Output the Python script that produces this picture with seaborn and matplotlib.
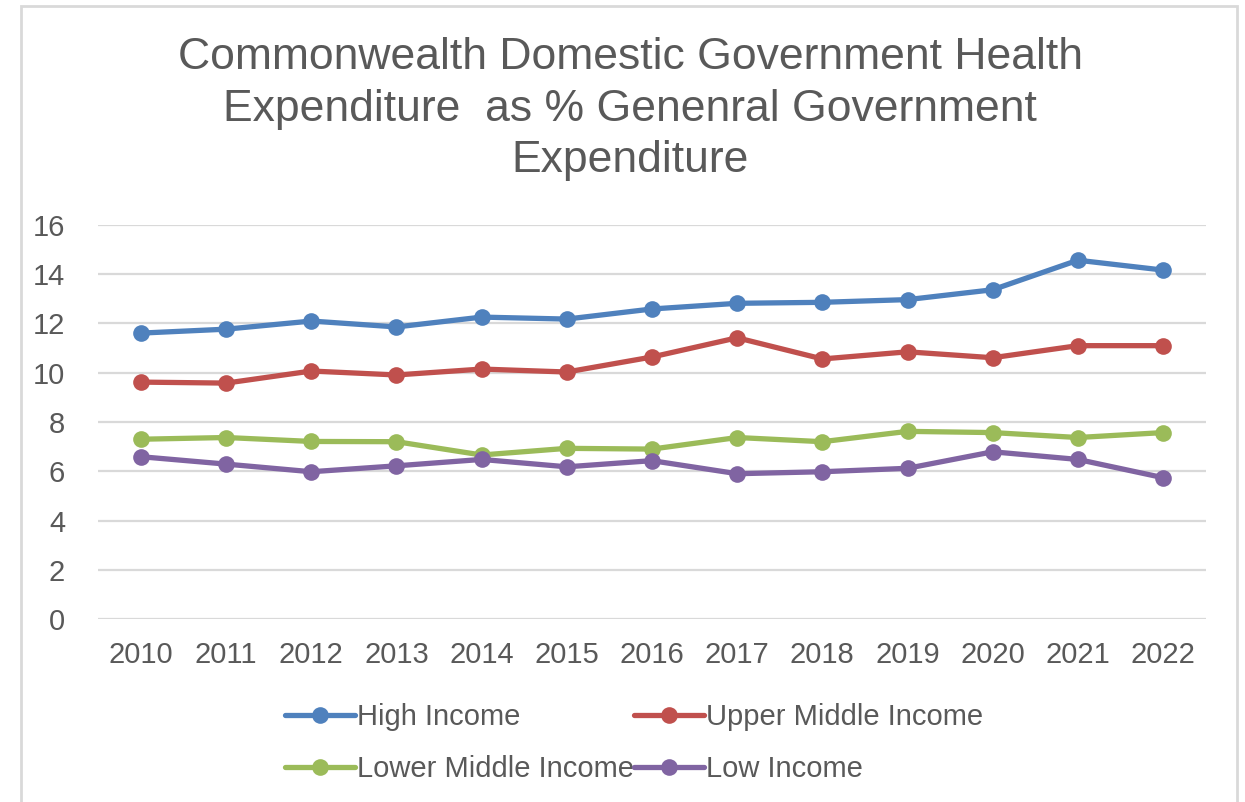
import matplotlib
matplotlib.use("Agg")
import matplotlib.pyplot as plt
import seaborn as sns
import pandas as pd
from matplotlib.patches import Rectangle

years = [2010, 2011, 2012, 2013, 2014, 2015, 2016, 2017, 2018, 2019, 2020, 2021, 2022]
high_income = [11.61, 11.77, 12.10, 11.86, 12.26, 12.18, 12.59, 12.82, 12.86, 12.97, 13.37, 14.57, 14.17]
upper_middle = [9.62, 9.58, 10.07, 9.91, 10.15, 10.03, 10.64, 11.42, 10.56, 10.85, 10.61, 11.10, 11.10]
lower_middle = [7.30, 7.37, 7.21, 7.20, 6.66, 6.93, 6.90, 7.37, 7.20, 7.62, 7.57, 7.37, 7.57]
low_income = [6.59, 6.29, 5.98, 6.22, 6.48, 6.18, 6.43, 5.90, 5.98, 6.12, 6.79, 6.48, 5.74]

series_names = ["High Income", "Upper Middle Income", "Lower Middle Income", "Low Income"]
colors = ["#4f81bd", "#c0504d", "#9bbb59", "#8064a2"]
title = "Commonwealth Domestic Government Health\nExpenditure  as % Genenral Government\nExpenditure"

rows = []
for name, vals in zip(series_names, [high_income, upper_middle, lower_middle, low_income]):
    for i, (y, v) in enumerate(zip(years, vals)):
        rows.append({"pos": i, "year": y, "value": v, "series": name})
df = pd.DataFrame(rows)

sns.set_theme(style="white")
plt.rcParams["font.family"] = ["Liberation Sans", "DejaVu Sans"]
text_color = "#595959"

fig = plt.figure(figsize=(12.45, 8.02), dpi=100)
ax = fig.add_axes([98.4 / 1245, 1 - 619 / 802, (1205.6 - 98.4) / 1245, (619 - 225) / 802])

sns.lineplot(data=df, x="pos", y="value", hue="series", hue_order=series_names,
             palette=colors, marker="o", markersize=12, markeredgewidth=0,
             linewidth=3.8, ax=ax, legend=True, solid_capstyle="round")

ax.set_xlim(-0.5, len(years) - 0.5)
ax.set_ylim(0, 16)
ax.set_yticks(range(0, 17, 2))
ax.set_xticks(range(len(years)))
ax.set_xticklabels([str(y) for y in years])
ax.yaxis.grid(True, color="#d9d9d9", linewidth=1.6)
ax.set_axisbelow(True)
for s in ax.spines.values():
    s.set_visible(False)
ax.tick_params(axis="both", length=0, labelsize=21, labelcolor=text_color)
ax.tick_params(axis="x", pad=16)
ax.tick_params(axis="y", pad=24)
ax.set_xlabel("")
ax.set_ylabel("")

handles, labels = ax.get_legend_handles_labels()
ax.get_legend().remove()
hmap = dict(zip(labels, handles))
order = ["High Income", "Lower Middle Income", "Upper Middle Income", "Low Income"]
leg = fig.legend([hmap[k] for k in order], order, ncol=2, loc="center",
                 bbox_to_anchor=(634 / 1245, 1 - 743 / 802), frameon=False,
                 fontsize=21, labelcolor=text_color, handlelength=2.4,
                 handletextpad=0.08, columnspacing=0.0, labelspacing=0.82)

fig.text(630 / 1245, 1 - 109 / 802, title, ha="center", va="center",
         fontsize=32, color=text_color, linespacing=1.33)

fig.patches.append(Rectangle((21 / 1245, -0.01), (1237 - 21) / 1245, 1.01 - 6 / 802,
                             transform=fig.transFigure, fill=False,
                             edgecolor="#d9d9d9", linewidth=2))

fig.savefig("out.png", dpi=100)
